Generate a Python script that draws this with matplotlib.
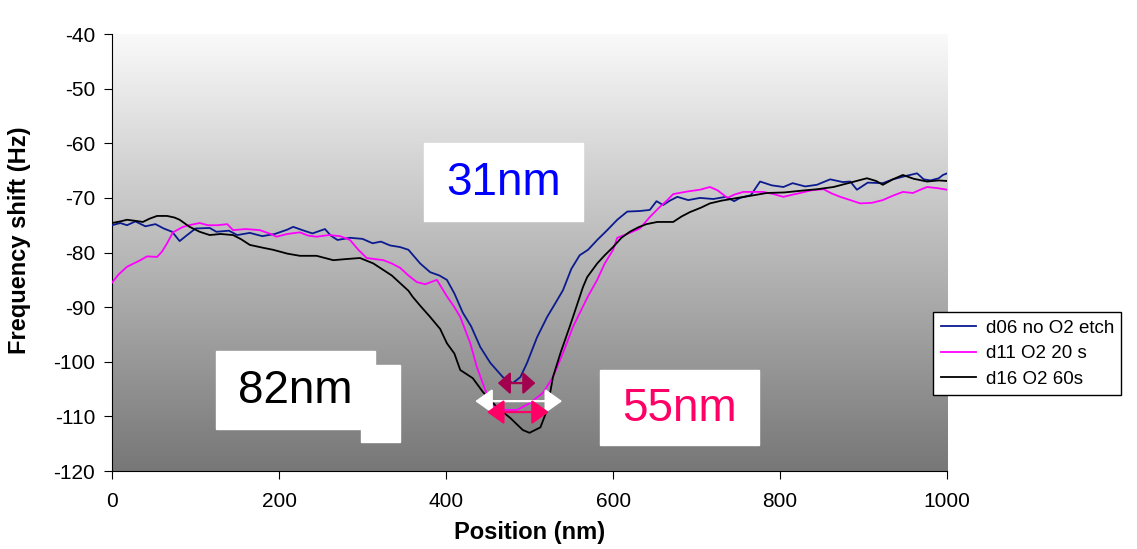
import numpy as np
import matplotlib.pyplot as plt
from matplotlib.patches import Rectangle

plt.rcParams['font.family'] = ['Liberation Sans', 'DejaVu Sans']
plt.rcParams['axes.unicode_minus'] = False

# d06 no O2 etch
blue_x = [0, 10, 18, 28, 40, 52, 62, 72, 81, 90, 100, 117, 125, 140, 150, 165, 180, 195, 210, 217,
          228, 240, 255, 262, 270, 285, 300, 312, 322, 333, 345, 355, 369, 381, 392, 401, 410, 420,
          430, 441, 453, 468, 480, 489, 497, 509, 521, 530, 540, 550, 560, 570, 581, 593, 605, 617,
          632, 644, 652, 660, 668, 677, 690, 704, 720, 735, 745, 752, 765, 776, 790, 804, 815, 830,
          844, 860, 875, 884, 892, 905, 923, 935, 950, 964, 972, 980, 990, 995, 1000]
blue_y = [-75, -74.6, -75, -74.3, -75.2, -74.8, -75.6, -76.2, -77.9, -76.8, -75.6, -75.5, -76.2, -76.0,
          -76.8, -76.4, -77.0, -76.6, -75.8, -75.3, -75.9, -76.5, -75.7, -76.9, -77.7, -77.3, -77.5,
          -78.3, -78.0, -78.7, -79.0, -79.5, -82, -83.6, -84.2, -85, -87.5, -91, -93.5, -97.3, -100.2,
          -102.8, -103.9, -102.8, -100.2, -95.5, -91.8, -89.5, -86.9, -83, -80.5, -79.5, -77.7, -75.9,
          -74, -72.5, -72.4, -72.2, -70.6, -71.3, -70.5, -69.8, -70.4, -70, -70.2, -69.8, -70.6, -70,
          -69.5, -67, -67.7, -68, -67.3, -67.9, -67.6, -66.6, -67.1, -67, -68.5, -67.2, -67.3, -66.6,
          -66, -65.5, -66.6, -66.8, -66.4, -65.8, -65.5]

# d11 O2 20 s
mag_x = [0, 8, 18, 26, 34, 42, 54, 60, 66, 73, 85, 95, 105, 115, 126, 138, 145, 160, 177, 190, 197,
         210, 225, 235, 245, 260, 273, 285, 295, 305, 315, 325, 335, 345, 355, 365, 375, 389, 401,
         410, 417, 429, 437, 447, 456, 468, 485, 500, 516, 528, 540, 552, 560, 570, 581, 590, 600,
         605, 620, 632, 644, 655, 665, 672, 690, 704, 716, 725, 737, 745, 756, 768, 780, 792, 804,
         815, 824, 838, 852, 862, 872, 884, 896, 910, 923, 935, 947, 959, 968, 976, 988, 1000]
mag_y = [-85.5, -84.0, -82.6, -82.0, -81.4, -80.7, -80.8, -79.8, -78.3, -76.3, -75.3, -74.9, -74.6,
         -75.0, -75.0, -74.8, -75.9, -75.7, -75.9, -76.6, -77.1, -76.6, -76.3, -76.9, -77.1, -76.8,
         -77.0, -77.7, -79.5, -81, -81.2, -81.4, -82.0, -82.8, -84.2, -85.4, -85.8, -85, -88, -90,
         -91.8, -96.6, -101, -105.2, -107.9, -108.8, -108.8, -107.6, -105.7, -102.8, -98.4, -93.6,
         -91.1, -88, -85, -82, -79.5, -77.3, -76.4, -75.6, -73.5, -71.8, -70.4, -69.3, -68.8, -68.5,
         -68, -68.6, -70, -69.4, -68.9, -68.9, -68.9, -69.3, -69.8, -69.4, -69.1, -68.6, -68.4, -69.2,
         -69.8, -70.4, -71, -70.9, -70.4, -69.6, -68.9, -69.1, -68.5, -68, -68.2, -68.5]

# d16 O2 60s
blk_x = [0, 10, 18, 28, 37, 45, 54, 66, 75, 81, 93, 105, 117, 130, 145, 155, 165, 180, 193, 210, 225,
         245, 255, 265, 280, 297, 313, 325, 335, 345, 355, 360, 370, 381, 393, 401, 410, 417, 432, 444,
         461, 477, 492, 500, 513, 521, 528, 537, 548, 552, 564, 569, 581, 590, 600, 610, 620, 630, 640,
         653, 672, 682, 692, 705, 716, 730, 749, 765, 784, 805, 824, 845, 864, 884, 904, 915, 923, 935,
         947, 960, 976, 990, 1000]
blk_y = [-74.6, -74.3, -74, -74.2, -74.4, -73.8, -73.3, -73.3, -73.6, -74, -75.3, -76.2, -76.8, -76.6,
         -76.8, -77.6, -78.6, -79.1, -79.5, -80.2, -80.6, -80.6, -81.0, -81.4, -81.2, -81, -82, -83.2,
         -84.2, -85.6, -87, -88.1, -89.9, -91.8, -94, -96.6, -98.5, -101.5, -103, -105.5, -108.3,
         -110.3, -112.5, -113, -112, -108.8, -102.8, -98.4, -93.6, -91.8, -86.3, -84.5, -82, -80.5,
         -79, -77.3, -76.2, -75.4, -74.8, -74.4, -74.4, -73.4, -72.6, -71.8, -71, -70.5, -70, -69.6,
         -69.1, -69, -68.7, -68.4, -68, -67.2, -66.4, -66.9, -67.6, -66.6, -65.8, -66.5, -67, -66.8,
         -66.9]

labels = ["d06 no O2 etch", "d11 O2 20 s", "d16 O2 60s"]
colors = ["#0b1a8f", "#ff00ff", "black"]

# width annotations: (x_start, x_end, y, colour)
arrows = [(462, 507, -103.9, "#a3004f"), (435, 539, -107.2, "white"), (449, 523, -109.2, "#ff0066")]
head_styles = ['<|-|>,head_length=0.5,head_width=0.45', '<|-|>,head_length=0.7,head_width=0.5',
               '<|-|>,head_length=0.7,head_width=0.5']

fig = plt.figure(figsize=(11.37, 5.49), dpi=100)
ax = fig.add_axes([0.0985, 0.142, 0.7345, 0.796])

# grey gradient background
grad = np.linspace(0, 1, 256).reshape(-1, 1)
ax.imshow(grad, cmap=plt.matplotlib.colors.LinearSegmentedColormap.from_list('g', ['#777777', '#fafafa']),
          extent=[0, 1000, -120, -40], aspect='auto', origin='lower', zorder=0)

ax.plot(blue_x, blue_y, color=colors[0], lw=1.3, label=labels[0], zorder=3)
ax.plot(mag_x, mag_y, color=colors[1], lw=1.3, label=labels[1], zorder=3)
ax.plot(blk_x, blk_y, color=colors[2], lw=1.3, label=labels[2], zorder=3)

for (x0, x1, y, c), st in zip(arrows, head_styles):
    ax.annotate('', xy=(x1, y), xytext=(x0, y),
                arrowprops=dict(arrowstyle=st, color=c, lw=1.6,
                                shrinkA=0, shrinkB=0, mutation_scale=15), zorder=5)

# white label boxes
ax.add_patch(Rectangle((373.5, -74.2), 190.5, 14.2, color='white', zorder=4))
ax.add_patch(Rectangle((124.6, -112.3), 190.4, 14.3, color='white', zorder=4))
ax.add_patch(Rectangle((298, -114.7), 47, 14.1, color='white', zorder=4))
ax.add_patch(Rectangle((584, -115.2), 191, 13.7, color='white', zorder=4))
ax.text(469, -67.3, "31nm", color='#0000ff', fontsize=33, ha='center', va='center', zorder=6)
ax.text(219, -105.3, "82nm", color='black', fontsize=33, ha='center', va='center', zorder=6)
ax.text(679, -108.6, "55nm", color='#ff0066', fontsize=33, ha='center', va='center', zorder=6)

ax.set_xlim(0, 1000)
ax.set_ylim(-120, -40)
ax.set_xticks(np.arange(0, 1001, 200))
ax.set_yticks(np.arange(-120, -39, 10))
ax.spines['top'].set_visible(False)
ax.spines['right'].set_visible(False)
ax.tick_params(direction='out', length=6, labelsize=15, colors='black')
ax.tick_params(axis='x', pad=9)
ax.tick_params(axis='y', pad=6)
ax.set_xlabel("Position (nm)", fontsize=17, fontweight='bold', labelpad=7)
ax.set_ylabel("Frequency shift (Hz)", fontsize=17, fontweight='bold')
ax.yaxis.set_label_coords(-0.097, 0.528)

leg = ax.legend(loc='upper left', bbox_to_anchor=(0.8206, 0.4317), bbox_transform=fig.transFigure,
                fontsize=13.5, frameon=True, fancybox=False, handlelength=1.9, borderaxespad=0,
                labelspacing=0.45, handletextpad=0.5)
leg.get_frame().set_edgecolor('black')
leg.get_frame().set_linewidth(1)
leg.get_frame().set_alpha(1)

plt.savefig('out.png', dpi=100)
